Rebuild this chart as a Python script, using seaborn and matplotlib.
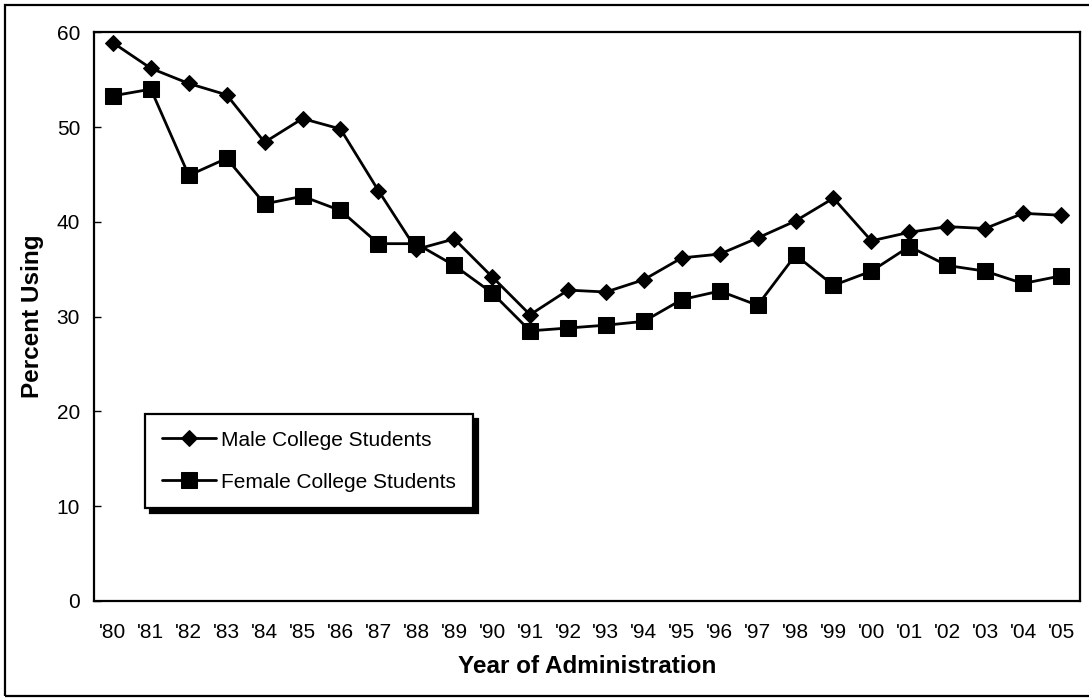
import numpy as np
import pandas as pd
import matplotlib
matplotlib.use("Agg")
import matplotlib.pyplot as plt
import seaborn as sns
from matplotlib.patches import Rectangle

years = list(range(1980, 2006))
year_labels = ["'80", "'81", "'82", "'83", "'84", "'85", "'86", "'87", "'88", "'89",
               "'90", "'91", "'92", "'93", "'94", "'95", "'96", "'97", "'98", "'99",
               "'00", "'01", "'02", "'03", "'04", "'05"]

male = [58.9, 56.2, 54.6, 53.4, 48.4, 50.9, 49.8, 43.3, 37.1, 38.2,
        34.2, 30.2, 32.8, 32.6, 33.9, 36.2, 36.6, 38.3, 40.1, 42.5,
        38.0, 38.9, 39.5, 39.3, 40.9, 40.7]
female = [53.3, 54.0, 44.9, 46.7, 41.9, 42.7, 41.2, 37.7, 37.7, 35.4,
          32.5, 28.5, 28.8, 29.1, 29.5, 31.8, 32.7, 31.2, 36.5, 33.3,
          34.8, 37.4, 35.4, 34.8, 33.5, 34.3]

df = pd.DataFrame({"year": years, "male": male, "female": female})

sns.set_style("white")
plt.rcParams["font.family"] = ["Liberation Sans", "DejaVu Sans"]
plt.rcParams["text.color"] = "black"
plt.rcParams["axes.labelcolor"] = "black"
plt.rcParams["xtick.color"] = "black"
plt.rcParams["ytick.color"] = "black"

fig = plt.figure(figsize=(10.89, 6.98), dpi=100)
ax = fig.add_axes([0.0863, 0.139, 0.9054, 0.8147])

sns.lineplot(data=df, x="year", y="male", ax=ax, color="black", lw=2,
             marker="D", markersize=8.5, markeredgecolor="black",
             label="Male College Students")
sns.lineplot(data=df, x="year", y="female", ax=ax, color="black", lw=2,
             marker="s", markersize=11, markeredgecolor="black",
             label="Female College Students")

ax.set_xlim(years[0] - 0.5, years[-1] + 0.5)
ax.set_ylim(0, 60)
ax.set_yticks(range(0, 61, 10))

# category axis: ticks between years, labels at the centres
ax.set_xticks(np.arange(years[0] + 0.5, years[-1], 1.0))
ax.set_xticklabels([])
ax.set_xticks(years, minor=True)
ax.set_xticklabels(year_labels, minor=True)
ax.tick_params(axis="x", which="major", direction="in", length=5, width=1, color="black")
ax.tick_params(axis="x", which="minor", length=0, pad=16, labelsize=15)
ax.tick_params(axis="y", direction="in", length=5, width=1, color="black",
               pad=10, labelsize=15, left=True)

for s in ax.spines.values():
    s.set_visible(True)
    s.set_color("black")
    s.set_linewidth(1.6)

ax.set_xlabel("Year of Administration", fontsize=17.5, fontweight="bold", labelpad=9)
ax.set_ylabel("Percent Using", fontsize=17.5, fontweight="bold", labelpad=9)

leg = ax.legend(loc="upper left", bbox_to_anchor=(0.0517, 0.3288), borderaxespad=0,
                fontsize=15, frameon=True, fancybox=False,
                shadow={"color": "black", "alpha": 1, "ox": 3.6, "oy": -3.6},
                handlelength=2.6, handletextpad=0.25, labelspacing=1.1, borderpad=0.8)
leg.get_frame().set_edgecolor("black")
leg.get_frame().set_linewidth(1.6)
leg.get_frame().set_facecolor("white")

# outer chart border
fig.patches.append(Rectangle((5 / 1089, 2 / 698), 1.01, 1 - 7 / 698,
                             transform=fig.transFigure, fill=False,
                             edgecolor="black", linewidth=1.6))

fig.savefig("out.png", dpi=100)
